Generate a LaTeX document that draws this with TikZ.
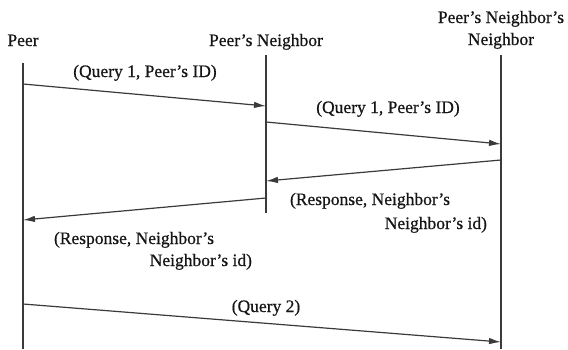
\documentclass[tikz,border=0pt]{standalone}
\usepackage{fontspec}
\setmainfont{Liberation Serif}
\newfontfamily\diagfont[Ligatures=TeX,FakeBold=0.6]{Liberation Serif}
\usetikzlibrary{arrows.meta}
\definecolor{lifeline}{HTML}{3A3A3A}
\definecolor{ink}{HTML}{151515}
\begin{document}
\begin{tikzpicture}[x=1pt,y=-1pt,
  every node/.style={inner sep=0pt, outer sep=0pt, text=ink,
    font=\diagfont\fontsize{17.5}{21}\selectfont},
  lifeline/.style={draw=lifeline, line width=1.3pt},
  msg/.style={draw=lifeline, line width=1.2pt,
    -{Latex[length=12pt,width=6.5pt]}},
  lbl/.style={anchor=base}]
\useasboundingbox (0,0) rectangle (568,349);

% participants
\node[lbl] (peer) at (23,46) {Peer};
\node[lbl] (nb) at (266,46) {Peer's Neighbor};
\node[lbl] (nnbA) at (501,23) {Peer's Neighbor's};
\node[lbl] (nnb) at (501,45) {Neighbor};

% lifelines
\coordinate (peerTop) at (23,63);
\coordinate (peerBot) at (23,349);
\coordinate (nbTop) at (266,55);
\coordinate (nbBot) at (266,213);
\coordinate (nnbTop) at (501,55);
\coordinate (nnbBot) at (501,349);
\draw[lifeline] (peerTop) -- (peerBot);
\draw[lifeline] (nbTop) -- (nbBot);
\draw[lifeline] (nnbTop) -- (nnbBot);

% message end points on the lifelines
\coordinate (m1a) at (23,84);   \coordinate (m1b) at (266,106);
\coordinate (m2a) at (266,122); \coordinate (m2b) at (501,144);
\coordinate (m3a) at (501,160); \coordinate (m3b) at (266,181);
\coordinate (m4a) at (266,198); \coordinate (m4b) at (23,220);
\coordinate (m5a) at (23,304);  \coordinate (m5b) at (501,342);

% messages
\draw[msg] (m1a) -- (m1b);
\draw[msg] (m2a) -- (m2b);
\draw[msg] (m3a) -- (m3b);
\draw[msg] (m4a) -- (m4b);
\draw[msg] (m5a) -- (m5b);

% message labels
\node[lbl] (q1a) at (145,77) {(Query 1, Peer's ID)};
\node[lbl] (q1b) at (388,113) {(Query 1, Peer's ID)};
\node[anchor=base west] (r1a) at (290,205) {(Response, Neighbor's};
\node[anchor=base east] (r1b) at (487,229) {Neighbor's id)};
\node[anchor=base west] (r2a) at (54,244) {(Response, Neighbor's};
\node[anchor=base east] (r2b) at (252,266) {Neighbor's id)};
\node[lbl] (q2) at (266,312) {(Query 2)};
\end{tikzpicture}
\end{document}
